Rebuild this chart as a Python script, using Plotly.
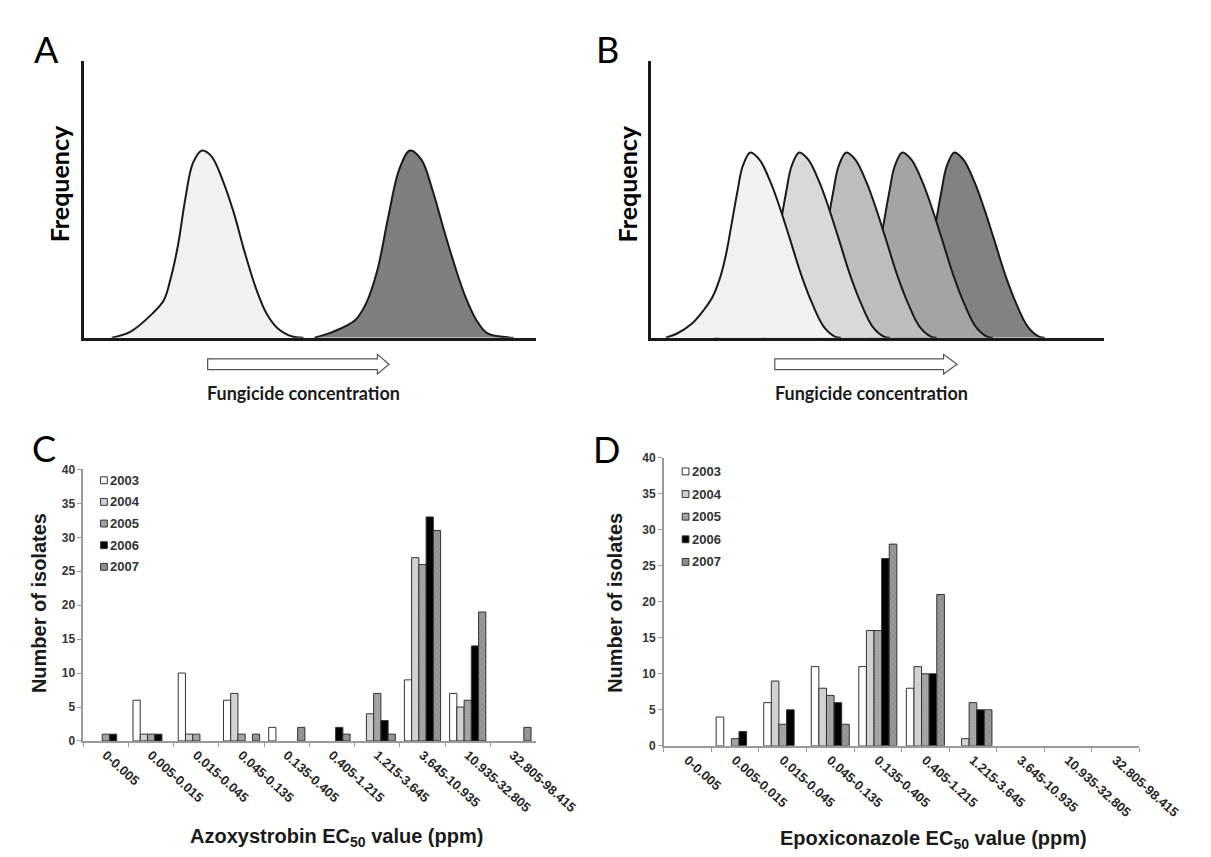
import plotly.graph_objects as go

W, H = 1211, 857

# ---------------- data ----------------
categories = ["0-0.005", "0.005-0.015", "0.015-0.045", "0.045-0.135", "0.135-0.405",
              "0.405-1.215", "1.215-3.645", "3.645-10.935", "10.935-32.805", "32.805-98.415"]
years = ["2003", "2004", "2005", "2006", "2007"]

azox_2003 = [0, 6, 10, 6, 2, 0, 0, 9, 7, 0]
azox_2004 = [0, 1, 1, 7, 0, 0, 4, 27, 5, 0]
azox_2005 = [1, 1, 1, 1, 0, 0, 7, 26, 6, 0]
azox_2006 = [1, 1, 0, 0, 0, 2, 3, 33, 14, 0]
azox_2007 = [0, 0, 0, 1, 2, 1, 1, 31, 19, 2]

epox_2003 = [0, 4, 6, 11, 11, 8, 0, 0, 0, 0]
epox_2004 = [0, 0, 9, 8, 16, 11, 1, 0, 0, 0]
epox_2005 = [0, 1, 3, 7, 16, 10, 6, 0, 0, 0]
epox_2006 = [0, 2, 5, 6, 26, 10, 5, 0, 0, 0]
epox_2007 = [0, 0, 0, 3, 28, 21, 5, 0, 0, 0]

# Schematic panel A: two curves (x, y in % of the axes)
a_sens_x = [6.1, 10.2, 15.1, 17.6, 19.2, 20.8, 22.4, 24.1, 26.1, 28.2, 30.6, 33.1, 35.5, 38.0, 40.4, 42.9, 46.1, 48.6]
a_sens_y = [0, 2.1, 8.7, 13.4, 21.7, 33.6, 50.2, 63.2, 67.7, 65.6, 57.3, 45.4, 31.2, 18.1, 8.7, 3.3, 0.4, 0]
a_res_x = [51.0, 55.1, 60.0, 62.4, 64.9, 67.3, 69.8, 72.2, 74.7, 77.1, 79.6, 82.0, 84.5, 86.9, 89.4, 95.1]
a_res_y = [0, 2.1, 6.3, 12.2, 24.1, 43.1, 60.9, 67.7, 64.4, 53.7, 39.5, 26.5, 14.6, 6.3, 1.5, 0]

# Schematic panel B: one curve profile (offset from peak, height in %) and five peak positions
b_profile_dx = [-18.7, -16.2, -12.9, -10.4, -8.4, -6.7, -5.4, -4.2, -2.9, -1.7, 0,
                2.0, 4.5, 6.6, 8.7, 11.2, 13.7, 16.2, 18.7, 20.0]
b_profile_y = [0, 1.5, 5.1, 9.8, 14.6, 21.7, 30.0, 40.7, 52.6, 62.0, 67.0,
               64.4, 56.1, 46.6, 35.9, 22.9, 12.2, 4.0, 0.4, 0]
b_peaks = [21.9, 32.7, 43.1, 55.5, 67.0]
b_colors = ["#f2f2f2", "#d9d9d9", "#bdbdbd", "#a4a4a4", "#828282"]

# ---------------- helpers ----------------
def fx(x):
    return x / W

def fy(y):
    return 1 - y / H

BAR_FONT = "Liberation Sans, Arial, sans-serif"
SCH_FONT = "Lato, Open Sans, sans-serif"

fig = go.Figure()

# ---- Panel A ----
fig.add_trace(go.Scatter(x=a_sens_x, y=a_sens_y, mode="lines", fill="toself",
                         fillcolor="#f2f2f2", line=dict(color="#1a1a1a", width=2, shape="spline"),
                         xaxis="x", yaxis="y", showlegend=False, hoverinfo="skip"))
fig.add_trace(go.Scatter(x=a_res_x, y=a_res_y, mode="lines", fill="toself",
                         fillcolor="#7f7f7f", line=dict(color="#1a1a1a", width=2, shape="spline"),
                         xaxis="x", yaxis="y", showlegend=False, hoverinfo="skip"))

# ---- Panel B (back to front) ----
for i in reversed(range(len(b_peaks))):
    xs = [b_peaks[i] + d for d in b_profile_dx]
    fig.add_trace(go.Scatter(x=xs, y=b_profile_y, mode="lines", fill="toself",
                             fillcolor=b_colors[i], line=dict(color="#1a1a1a", width=2, shape="spline"),
                             xaxis="x2", yaxis="y2", showlegend=False, hoverinfo="skip"))

# ---- Panels C & D bars ----
bar_fill = {"2003": "#ffffff", "2004": "#d2d2d2", "2005": "#a3a3a3", "2006": "#000000", "2007": "#8e8e8e"}
bar_pattern = {
    "2005": dict(shape=".", fgcolor="#8a8a8a", bgcolor="#a8a8a8", size=3, solidity=0.3),
    "2007": dict(shape="x", fgcolor="#6a6a6a", bgcolor="#9a9a9a", size=4, solidity=0.3),
}
azox = [azox_2003, azox_2004, azox_2005, azox_2006, azox_2007]
epox = [epox_2003, epox_2004, epox_2005, epox_2006, epox_2007]

def nz(vals):
    return [v if v else None for v in vals]

for xa, ya, series in [("x3", "y3", azox), ("x4", "y4", epox)]:
    for yr, vals in zip(years, series):
        fig.add_trace(go.Bar(x=categories, y=nz(vals), name=yr, xaxis=xa, yaxis=ya,
                             showlegend=False,
                             marker=dict(color=bar_fill[yr], line=dict(color="#333333", width=1),
                                         pattern=bar_pattern.get(yr))))

sch_axis = dict(range=[0, 100], showline=True, linecolor="#1a1a1a", linewidth=2.5,
                showgrid=False, zeroline=False, showticklabels=False, ticks="", fixedrange=True)

bar_x = dict(type="category", showline=True, linecolor="#9a9a9a", linewidth=1.5,
             ticks="outside", ticklen=4, tickcolor="#9a9a9a", tickson="boundaries",
             tickangle=42, tickfont=dict(family=BAR_FONT, size=13, color="#262626", weight="bold"),
             showgrid=False, zeroline=False)
bar_y = dict(range=[0, 40], dtick=5, showline=True, linecolor="#9a9a9a", linewidth=1.5,
             ticks="outside", ticklen=4, tickcolor="#9a9a9a",
             tickfont=dict(family=BAR_FONT, size=12, color="#333333", weight="bold"),
             showgrid=False, zeroline=False)

fig.update_layout(
    width=W, height=H, autosize=False,
    margin=dict(l=0, r=0, t=0, b=0),
    paper_bgcolor="white", plot_bgcolor="rgba(0,0,0,0)",
    barmode="group", bargap=0.2, bargroupgap=0, showlegend=False,
    xaxis=dict(domain=[fx(79), fx(547)], anchor="y", **sch_axis),
    yaxis=dict(domain=[fy(328), fy(47)], anchor="x", **sch_axis),
    xaxis2=dict(domain=[fx(667), fx(1136)], anchor="y2", **sch_axis),
    yaxis2=dict(domain=[fy(328), fy(47)], anchor="x2", **sch_axis),
    xaxis3=dict(domain=[fx(78), fx(547)], anchor="y3", **bar_x),
    yaxis3=dict(domain=[fy(738), fy(462)], anchor="x3", **bar_y),
    xaxis4=dict(domain=[fx(680), fx(1173)], anchor="y4", **bar_x),
    yaxis4=dict(domain=[fy(743), fy(450)], anchor="x4", **bar_y),
)

# Manual legends (small squares + year text), one per bar panel
def add_legend(x_marker, y_rows):
    for yr, yc in zip(years, y_rows):
        fig.add_shape(type="rect", xref="paper", yref="paper",
                      x0=fx(x_marker), x1=fx(x_marker + 7), y0=fy(yc + 3.5), y1=fy(yc - 3.5),
                      line=dict(color="#333333", width=1), fillcolor=bar_fill[yr])
        fig.add_annotation(text=yr, x=fx(x_marker + 8), y=fy(yc), xref="paper", yref="paper",
                           showarrow=False, xanchor="left", yanchor="middle",
                           font=dict(family=BAR_FONT, size=13, color="#333333", weight="bold"))

add_legend(96, [473, 495, 517, 539, 561])
add_legend(699, [464, 487, 510, 533, 556])

# Panel letters
for letter, (lx, ly) in zip("ABCD", [(40, 35), (622, 35), (37, 440), (621, 441)]):
    fig.add_annotation(text=letter, x=fx(lx), y=fy(ly), xref="paper", yref="paper",
                       showarrow=False, xanchor="center", yanchor="middle",
                       font=dict(family=SCH_FONT, size=36, color="#000000"))

# Schematic axis labels
for cx in [53, 642]:
    fig.add_annotation(text="Frequency", x=fx(cx), y=fy(172), xref="paper", yref="paper",
                       showarrow=False, textangle=-90, xanchor="center", yanchor="middle",
                       font=dict(family=SCH_FONT, size=25, color="#000000", weight="bold"))
for cx in [306, 895]:
    fig.add_annotation(text="Fungicide concentration", x=fx(cx), y=fy(384), xref="paper", yref="paper",
                       showarrow=False, xanchor="center", yanchor="middle",
                       font=dict(family=SCH_FONT, size=18, color="#1a1a1a", weight="bold"))

# Hollow arrows under the schematic axes
def arrow_path(x0, x_head, x_tip, yc, shaft_half, head_half):
    pts = [(x0, yc - shaft_half), (x_head, yc - shaft_half), (x_head, yc - head_half), (x_tip, yc),
           (x_head, yc + head_half), (x_head, yc + shaft_half), (x0, yc + shaft_half)]
    return "M " + " L ".join(f"{fx(px):.5f},{fy(py):.5f}" for px, py in pts) + " Z"

for x0, xh, xt in [(207, 383, 395), (795, 970, 984)]:
    fig.add_shape(type="path", path=arrow_path(x0, xh, xt, 355, 5.5, 10), xref="paper", yref="paper",
                  line=dict(color="#555555", width=1.2), fillcolor="white")

# Bar chart axis titles
for cx in [32, 630]:
    fig.add_annotation(text="Number of isolates", x=fx(cx), y=fy(598), xref="paper", yref="paper",
                       showarrow=False, textangle=-90, xanchor="center", yanchor="middle",
                       font=dict(family=BAR_FONT, size=20, color="#1a1a1a", weight="bold"))
fig.add_annotation(text="Azoxystrobin EC<sub>50</sub> value (ppm)", x=fx(341), y=fy(836),
                   xref="paper", yref="paper", showarrow=False, xanchor="center", yanchor="middle",
                   font=dict(family=BAR_FONT, size=20, color="#1a1a1a", weight="bold"))
fig.add_annotation(text="Epoxiconazole EC<sub>50</sub> value (ppm)", x=fx(960), y=fy(838),
                   xref="paper", yref="paper", showarrow=False, xanchor="center", yanchor="middle",
                   font=dict(family=BAR_FONT, size=20, color="#1a1a1a", weight="bold"))

fig.write_html("out.html")
